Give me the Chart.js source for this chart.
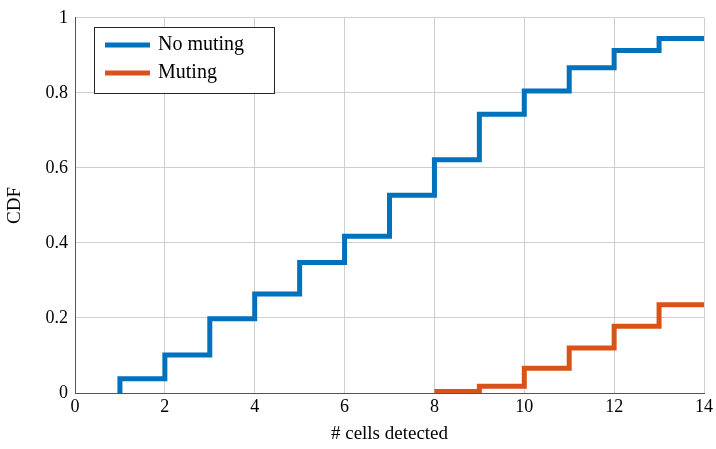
<!DOCTYPE html>
<html>
<head>
<meta charset="utf-8">
<script src="https://cdn.jsdelivr.net/npm/chart.js@4"></script>
<style>
  html, body { margin: 0; padding: 0; background: #fff; }
  #wrap { width: 716px; height: 449px; }
</style>
</head>
<body>
<div id="wrap"><canvas id="cdf-chart" width="716" height="449"></canvas></div>
<script>
// CDF of detected cells, with and without muting
var noMutingCells = [1, 1, 2, 3, 4, 5, 6, 7, 8, 9, 10, 11, 12, 13, 14];
var noMutingCdf = [0, 0.038, 0.101, 0.198, 0.264, 0.348, 0.418, 0.527, 0.622, 0.743, 0.805, 0.867, 0.913, 0.945, 0.945];
var mutingCells = [8, 9, 10, 11, 12, 13, 14];
var mutingCdf = [0.004, 0.018, 0.066, 0.12, 0.178, 0.235, 0.235];
var xTicks = [0, 2, 4, 6, 8, 10, 12, 14];
var yTicks = [0, 0.2, 0.4, 0.6, 0.8, 1];

var FONT = "'Liberation Serif', 'DejaVu Serif', serif";

function toPoints(xs, ys) {
  return xs.map(function(x, i) { return { x: x, y: ys[i] }; });
}

// legend drawn inside the plot, top-left, like the original figure
var boxLegend = {
  id: 'boxLegend',
  afterDatasetsDraw: function(chart) {
    var ctx = chart.ctx;
    var x = 94, y = 27, w = 180, h = 66;
    ctx.save();
    ctx.fillStyle = '#fff';
    ctx.fillRect(x, y, w, h);
    ctx.strokeStyle = '#262626';
    ctx.lineWidth = 1;
    ctx.strokeRect(x + 0.5, y + 0.5, w, h);
    chart.data.datasets.forEach(function(ds, i) {
      var ly = y + 18 + i * 28;
      ctx.strokeStyle = ds.borderColor;
      ctx.lineWidth = 5;
      ctx.beginPath();
      ctx.moveTo(105, ly);
      ctx.lineTo(150, ly);
      ctx.stroke();
      ctx.fillStyle = '#000';
      ctx.font = '20px ' + FONT;
      ctx.textBaseline = 'middle';
      ctx.textAlign = 'left';
      ctx.fillText(ds.label, 158, ly);
    });
    ctx.restore();
  }
};

var ctx = document.getElementById('cdf-chart').getContext('2d');
new Chart(ctx, {
  type: 'line',
  data: {
    datasets: [
      { label: 'No muting', data: toPoints(noMutingCells, noMutingCdf), borderColor: '#0072BD', borderWidth: 5, stepped: 'before', pointRadius: 0, fill: false },
      { label: 'Muting', data: toPoints(mutingCells, mutingCdf), borderColor: '#D95319', borderWidth: 5, stepped: 'before', pointRadius: 0, fill: false }
    ]
  },
  options: {
    responsive: false,
    animation: false,
    layout: { padding: { top: 15, right: 12, left: 0, bottom: 0 } },
    plugins: { legend: { display: false }, tooltip: { enabled: false } },
    scales: {
      x: {
        type: 'linear', min: 0, max: 14,
        afterBuildTicks: function(axis) { axis.ticks = xTicks.map(function(v) { return { value: v }; }); },
        afterFit: function(axis) { axis.height = 56; },
        grid: { color: '#cfcfcf', lineWidth: 1, drawTicks: false },
        border: { color: '#555', width: 1 },
        ticks: { color: '#000', padding: 3, font: { family: FONT, size: 18 } },
        title: { display: true, text: '# cells detected', color: '#000', padding: { top: 2 }, font: { family: FONT, size: 19 } }
      },
      y: {
        type: 'linear', min: 0, max: 1,
        afterBuildTicks: function(axis) { axis.ticks = yTicks.map(function(v) { return { value: v }; }); },
        afterFit: function(axis) { axis.width = 75; },
        grid: { color: '#cfcfcf', lineWidth: 1, drawTicks: false },
        border: { color: '#555', width: 1 },
        ticks: { color: '#000', padding: 7, font: { family: FONT, size: 18 }, callback: function(v) { return String(v); } },
        title: { display: true, text: 'CDF', color: '#000', padding: { bottom: 2 }, font: { family: FONT, size: 19 } }
      }
    }
  },
  plugins: [boxLegend]
});
</script>
</body>
</html>
